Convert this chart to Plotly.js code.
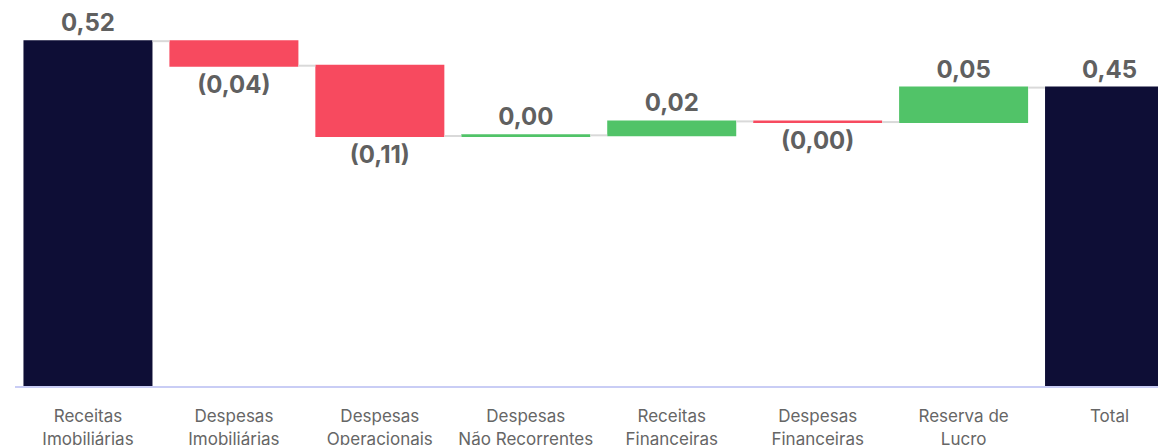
<!DOCTYPE html>
<html>
<head>
<meta charset="utf-8">
<script src="https://cdn.plot.ly/plotly-3.0.1.min.js"></script>
<style>html,body{margin:0;padding:0;overflow:hidden;background:#fff}</style>
</head>
<body>
<div id="chart" style="width:1158px;height:445px"></div>
<script>
const categories = [
  "Receitas<br>Imobiliárias",
  "Despesas<br>Imobiliárias",
  "Despesas<br>Operacionais",
  "Despesas<br>Não Recorrentes",
  "Receitas<br>Financeiras",
  "Despesas<br>Financeiras",
  "Reserva de<br>Lucro",
  "Total"
];
const values = [0.52, -0.037, -0.106, 0.001, 0.021, -0.001, 0.052, 0];
const measures = ["absolute", "relative", "relative", "relative", "relative", "relative", "relative", "total"];

function fmt(v) {
  const s = Math.abs(v).toFixed(2).replace(".", ",");
  return v < 0 ? "(" + s + ")" : s;
}
let running = 0;
const labels = values.map((v, i) => {
  if (measures[i] === "absolute") { running = v; return fmt(v); }
  if (measures[i] === "total") { return fmt(running); }
  running += v;
  return fmt(v);
});

const trace = {
  type: "waterfall",
  x: categories,
  y: values,
  measure: measures,
  text: labels,
  textposition: "outside",
  textfont: {family: "Inter, sans-serif", size: 24, color: "#606060", weight: 700},
  cliponaxis: false,
  hoverinfo: "skip",
  increasing: {marker: {color: "#51c368"}},
  decreasing: {marker: {color: "#f74a5f"}},
  totals: {marker: {color: "#0e0e36"}},
  connector: {line: {color: "#d9d9d9", width: 2}}
};

const layout = {
  width: 1158,
  height: 445,
  margin: {l: 14.5, r: 0, t: 10, b: 59},
  paper_bgcolor: "#fff",
  plot_bgcolor: "#fff",
  showlegend: false,
  waterfallgap: 0.116,
  font: {family: "Inter, sans-serif"},
  xaxis: {
    range: [-0.5, 7.332],
    showgrid: false,
    zeroline: false,
    showline: true,
    linecolor: "#c9cdf5",
    linewidth: 2,
    ticks: "",
    ticklabelstandoff: 14,
    tickfont: {family: "Inter, sans-serif", size: 17, color: "#666666"}
  },
  yaxis: {
    range: [0, 0.567],
    visible: false,
    showgrid: false,
    zeroline: false
  }
};

Plotly.newPlot("chart", [trace], layout, {displayModeBar: false, staticPlot: true});
</script>
</body>
</html>
